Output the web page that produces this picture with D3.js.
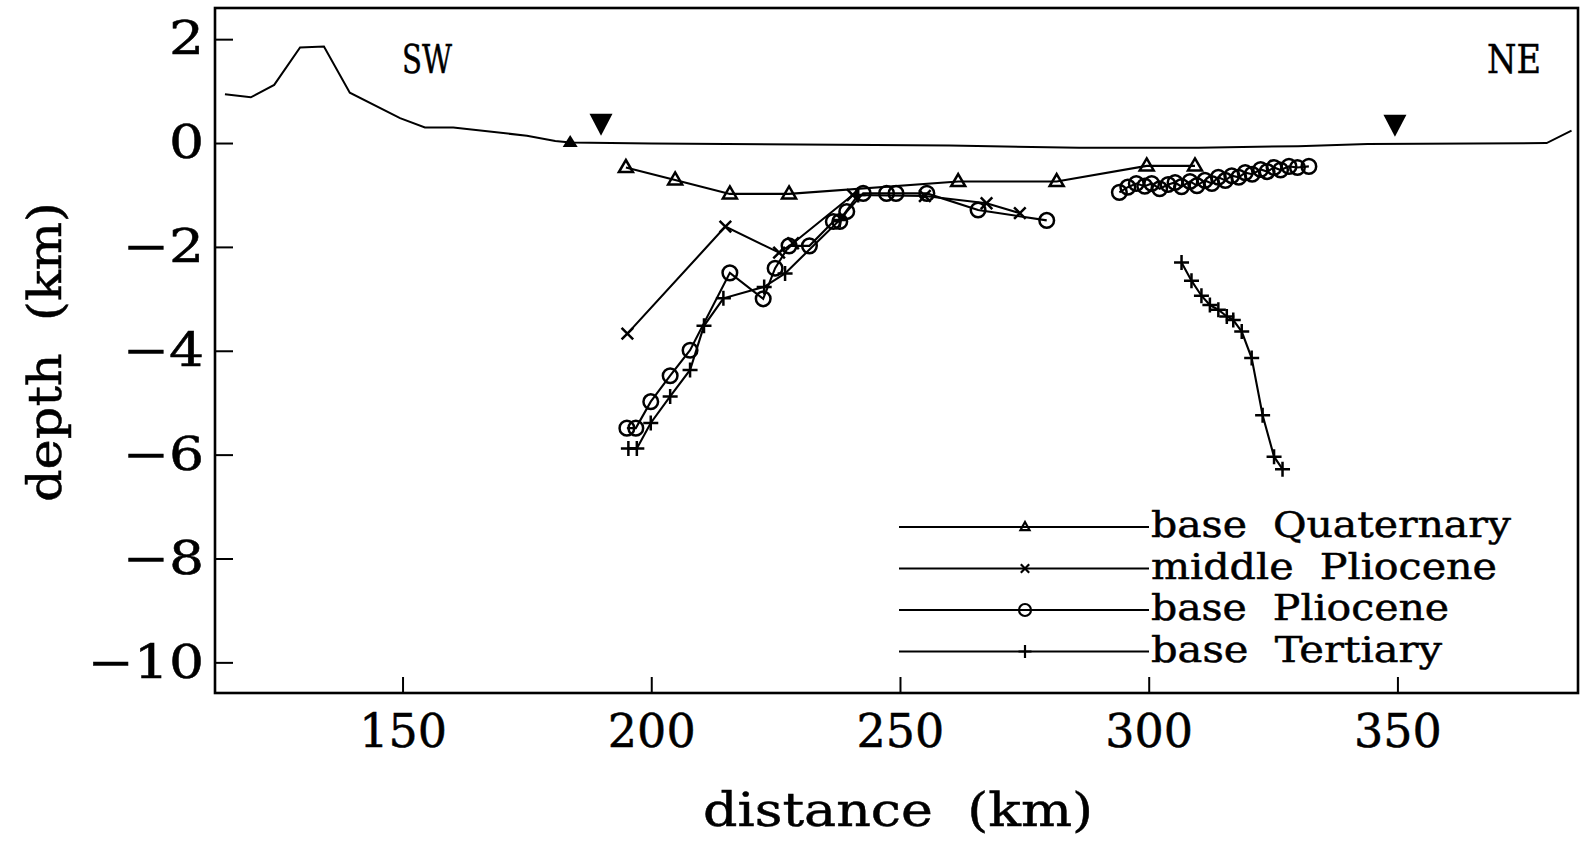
<!DOCTYPE html>
<html>
<head>
<meta charset="utf-8">
<script src="https://cdn.jsdelivr.net/npm/d3@7"></script>
<style>
  html, body { margin: 0; padding: 0; background: #fff; }
  svg { display: block; }
  text { font-family: "DejaVu Serif", serif; fill: #000; stroke: #000; stroke-width: 0.5px; white-space: pre; }
</style>
</head>
<body>
<svg id="chart" width="1583" height="844"></svg>
<script>
// ---- Data: profile distance (km) and depth (km) ----
const surfaceDistance = [114.3, 119.5, 124.2, 129.4, 134.2, 139.4, 149.5, 154.5, 160.2, 175.0, 180.7, 183.7, 200.0, 230.0, 260.0, 286.0, 310.0, 330.0, 344.0, 380.0, 385.0];
const surfaceDepth    = [0.94, 0.88, 1.12, 1.84, 1.86, 0.97, 0.48, 0.30, 0.30, 0.14, 0.04, 0.01, -0.01, -0.03, -0.05, -0.09, -0.09, -0.06, -0.02, 0.00, 0.24];

// Coastline markers on the surface
const coastUpDistance = [183.7];
const coastUpDepth = [0.0];
const coastDownDistance = [189.9, 349.5];
const coastDownDepth = [0.37, 0.35];

const quaternaryDistance = [194.9, 204.8, 215.8, 227.7, 261.7, 281.5, 299.6, 309.3];
const quaternaryDepth    = [-0.47, -0.71, -0.98, -0.98, -0.74, -0.74, -0.44, -0.44];

const midPlioceneDistance = [195.2, 214.9, 225.7, 228.5, 240.5, 255.0, 267.4, 274.1];
const midPlioceneDepth    = [-3.67, -1.61, -2.11, -1.93, -1.00, -1.02, -1.16, -1.35];

// null separates the two picked segments
const basePlioceneDistance = [195.1, 196.9, 199.9, 203.8, 207.8, 215.8, 222.5, 224.9, 227.7, 231.8, 236.6, 237.9, 239.3, 242.6, 247.3, 249.2, 255.4, 265.7, 279.5,
  null,
  294.1, 295.8, 297.5, 299.2, 300.6, 302.2, 303.9, 305.3, 306.6, 308.3, 309.7, 311.3, 312.7, 314.0, 315.4, 316.7, 318.1, 319.4, 320.8, 322.5, 323.8, 325.2, 326.5, 328.2, 329.9, 332.2];
const basePlioceneDepth = [-5.49, -5.49, -4.98, -4.48, -3.99, -2.50, -3.00, -2.41, -1.98, -1.98, -1.51, -1.51, -1.32, -0.97, -0.97, -0.97, -0.97, -1.29, -1.49,
  null,
  -0.95, -0.85, -0.78, -0.83, -0.78, -0.88, -0.80, -0.76, -0.84, -0.74, -0.82, -0.72, -0.78, -0.66, -0.72, -0.63, -0.66, -0.57, -0.60, -0.51, -0.55, -0.47, -0.52, -0.45, -0.47, -0.45];

const tertiaryDistance = [195.4, 197.1, 199.9, 203.8, 207.8, 210.6, 214.5, 222.7, 226.9, 237.9, 241.6,
  null,
  306.6, 308.6, 310.6, 312.3, 314.0, 315.7, 317.0, 318.7, 320.7, 322.9, 325.2, 326.9];
const tertiaryDepth = [-5.88, -5.88, -5.39, -4.88, -4.37, -3.52, -2.99, -2.77, -2.51, -1.48, -1.00,
  null,
  -2.30, -2.65, -2.94, -3.12, -3.21, -3.34, -3.41, -3.63, -4.14, -5.24, -6.04, -6.28];

const xTicks = [150, 200, 250, 300, 350];
const yTicks = [2, 0, -2, -4, -6, -8, -10];

const seriesNames = ["base  Quaternary", "middle  Pliocene", "base  Pliocene", "base  Tertiary"];
const seriesMarkers = ["triangle", "times", "circle", "plus"];

// ---- Layout ----
const W = 1583, H = 844;
const margin = { left: 215, top: 8, right: 5, bottom: 151 };

const svg = d3.select("#chart");

const x = d3.scaleLinear().domain([112.3, 386.3]).range([margin.left, W - margin.right]);
const y = d3.scaleLinear().domain([-10.59, 2.60]).range([H - margin.bottom, margin.top]);

const zip = (xs, ys) => xs.map((d, i) => ({ d, z: ys[i] }));
const defined = p => p.d !== null && p.z !== null;

// Marker shapes (stroked)
function markerPath(type, s) {
  switch (type) {
    case "triangle": {
      const w = s.w, h = s.h;
      return `M0,${-h * 0.62}L${w / 2},${h * 0.38}L${-w / 2},${h * 0.38}Z`;
    }
    case "times": return `M${-s},${-s}L${s},${s}M${-s},${s}L${s},${-s}`;
    case "plus": return `M${-s},0H${s}M0,${-s}V${s}`;
  }
  return "";
}
const plotSize = { triangle: { w: 14, h: 12 }, times: 5.8, plus: 7.5, circle: 7.3 };
const legendSize = { triangle: { w: 9, h: 8 }, times: 4.2, plus: 6.5, circle: 6 };

function drawMarkers(g, pts, type, size) {
  pts = pts.filter(defined);
  if (type === "circle") {
    g.selectAll(null).data(pts).join("circle")
      .attr("cx", p => x(p.d)).attr("cy", p => y(p.z)).attr("r", size)
      .attr("fill", "none").attr("stroke", "#000").attr("stroke-width", 2.5);
  } else {
    g.selectAll(null).data(pts).join("path")
      .attr("transform", p => `translate(${x(p.d)},${y(p.z)})`)
      .attr("d", markerPath(type, size))
      .attr("fill", "none").attr("stroke", "#000").attr("stroke-width", 2.5)
      .attr("stroke-linejoin", "miter");
  }
}

const line = d3.line().defined(defined).x(p => x(p.d)).y(p => y(p.z));

const plot = svg.append("g");

// Surface profile
plot.append("path").datum(zip(surfaceDistance, surfaceDepth))
  .attr("d", line).attr("fill", "none").attr("stroke", "#000").attr("stroke-width", 2);

// Horizon lines and markers
const horizons = [
  zip(quaternaryDistance, quaternaryDepth),
  zip(midPlioceneDistance, midPlioceneDepth),
  zip(basePlioceneDistance, basePlioceneDepth),
  zip(tertiaryDistance, tertiaryDepth)
];
horizons.forEach((pts, i) => {
  const g = plot.append("g");
  g.append("path").datum(pts).attr("d", line)
    .attr("fill", "none").attr("stroke", "#000").attr("stroke-width", 2.1);
  drawMarkers(g, pts, seriesMarkers[i], plotSize[seriesMarkers[i]]);
});

// Coastline markers
plot.selectAll(null).data(zip(coastUpDistance, coastUpDepth)).join("path")
  .attr("transform", p => `translate(${x(p.d)},${y(p.z)})`)
  .attr("d", "M0,-8L7.5,4L-7.5,4Z").attr("fill", "#000");
plot.selectAll(null).data(zip(coastDownDistance, coastDownDepth)).join("path")
  .attr("transform", p => `translate(${x(p.d)},${y(p.z)})`)
  .attr("d", "M-11.5,-10L11.5,-10L0,12Z").attr("fill", "#000");

// Frame
svg.append("rect")
  .attr("x", x.range()[0]).attr("y", y.range()[1])
  .attr("width", x.range()[1] - x.range()[0]).attr("height", y.range()[0] - y.range()[1])
  .attr("fill", "none").attr("stroke", "#000").attr("stroke-width", 2.6);

// Axes (ticks point inward)
const xAxis = d3.axisBottom(x).tickValues(xTicks).tickSizeInner(-16).tickSizeOuter(0).tickPadding(21);
svg.append("g").attr("transform", `translate(0,${y.range()[0]})`).call(xAxis)
  .call(s => s.select(".domain").remove())
  .attr("font-size", 46).attr("font-family", "DejaVu Serif")
  .call(s => s.selectAll("line").attr("stroke-width", 2));

const yAxis = d3.axisLeft(y).tickValues(yTicks).tickSizeInner(-18).tickSizeOuter(0).tickPadding(11)
  .tickFormat(d => d < 0 ? "\u2212" + Math.abs(d) : String(d));
svg.append("g").attr("transform", `translate(${x.range()[0]},0)`).call(yAxis)
  .call(s => s.select(".domain").remove())
  .attr("font-size", 46).attr("font-family", "DejaVu Serif")
  .call(s => s.selectAll("line").attr("stroke-width", 2))
  .call(s => s.selectAll("text").each(function () {
    // vertical-axis numerals are printed slightly wider
    const len = this.getComputedTextLength();
    d3.select(this).attr("textLength", len * 1.2).attr("lengthAdjust", "spacingAndGlyphs");
  }));

// Axis titles
svg.append("text").attr("x", 703).attr("y", 826)
  .attr("font-size", 47).attr("textLength", 390).attr("lengthAdjust", "spacingAndGlyphs")
  .text("distance  (km)");
svg.append("text").attr("transform", "translate(61,502) rotate(-90)")
  .attr("font-size", 47).attr("textLength", 300).attr("lengthAdjust", "spacingAndGlyphs")
  .text("depth  (km)");

// Direction labels
svg.append("text").attr("x", 402).attr("y", 73).attr("font-size", 40)
  .attr("textLength", 50).attr("lengthAdjust", "spacingAndGlyphs").text("SW");
svg.append("text").attr("x", 1487).attr("y", 73).attr("font-size", 40)
  .attr("textLength", 54).attr("lengthAdjust", "spacingAndGlyphs").text("NE");

// Legend
const legendRows = [527, 568.5, 610, 651.5];
const legendWidths = [360, 346, 298, 291];
const legend = svg.append("g");
seriesNames.forEach((name, i) => {
  const ly = legendRows[i];
  legend.append("line").attr("x1", 899).attr("x2", 1149).attr("y1", ly).attr("y2", ly)
    .attr("stroke", "#000").attr("stroke-width", 2);
  const type = seriesMarkers[i];
  const sz = legendSize[type];
  if (type === "circle") {
    legend.append("circle").attr("cx", 1025).attr("cy", ly).attr("r", sz)
      .attr("fill", "none").attr("stroke", "#000").attr("stroke-width", 2.2);
  } else {
    legend.append("path").attr("transform", `translate(1025,${ly})`)
      .attr("d", markerPath(type, sz)).attr("fill", "none").attr("stroke", "#000").attr("stroke-width", 2.2);
  }
  legend.append("text").attr("x", 1151).attr("y", ly + 10).attr("font-size", 35)
    .attr("textLength", legendWidths[i]).attr("lengthAdjust", "spacingAndGlyphs").text(name);
});
</script>
</body>
</html>
